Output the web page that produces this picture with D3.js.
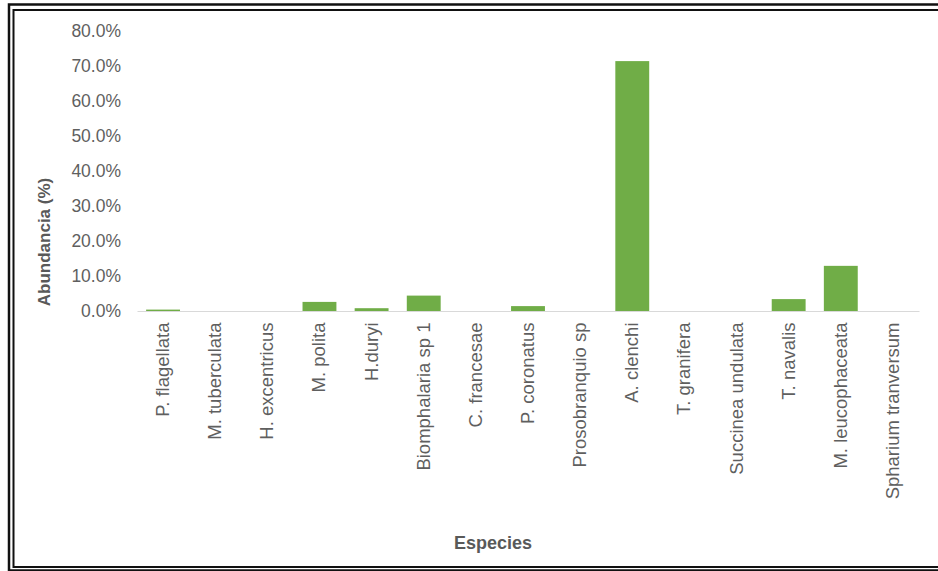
<!DOCTYPE html>
<html>
<head>
<meta charset="utf-8">
<script src="https://cdn.jsdelivr.net/npm/d3@7"></script>
<style>
  html, body { margin: 0; padding: 0; background: #fff; }
  svg { display: block; }
  text { font-family: "Liberation Sans", Arial, sans-serif; }
</style>
</head>
<body>
<svg id="chart" width="938" height="571"></svg>
<script>
// Species abundance (%) per category
const species = [
  "P. flagellata", "M. tuberculata", "H. excentricus", "M. polita", "H.duryi",
  "Biomphalaria sp 1", "C. francesae", "P. coronatus", "Prosobranquio sp",
  "A. clenchi", "T. granifera", "Succinea undulata", "T. navalis",
  "M. leucophaceata", "Spharium tranversum"
];
const abundance = [0.4, 0, 0, 2.6, 0.8, 4.4, 0, 1.4, 0, 71.4, 0, 0, 3.4, 12.9, 0];
const yTicks = [0, 10, 20, 30, 40, 50, 60, 70, 80];

const svg = d3.select("#chart");

// Double frame around the chart
svg.append("rect")
  .attr("x", 9).attr("y", 4.5).attr("width", 1000).attr("height", 566)
  .attr("fill", "none").attr("stroke", "#111").attr("stroke-width", 2.5);
svg.append("rect")
  .attr("x", 13.5).attr("y", 10).attr("width", 1000).attr("height", 557)
  .attr("fill", "none").attr("stroke", "#111").attr("stroke-width", 2);

const plot = { left: 137, right: 919, top: 31, bottom: 311 };

const x = d3.scaleBand()
  .domain(species)
  .range([plot.left, plot.right])
  .paddingInner(0.35)
  .paddingOuter(0.175);

const y = d3.scaleLinear()
  .domain([0, 80])
  .range([plot.bottom, plot.top]);

// Y axis labels (no axis line)
const yAxis = d3.axisLeft(y)
  .tickValues(yTicks)
  .tickSize(0)
  .tickPadding(0)
  .tickFormat(d => d.toFixed(1) + "%");
const gy = svg.append("g")
  .attr("transform", `translate(${plot.left - 16},0)`)
  .call(yAxis);
gy.select(".domain").remove();
gy.selectAll("text")
  .attr("fill", "#5f5f5f")
  .style("font-size", "17.5px");

// Bars
svg.append("g")
  .selectAll("rect")
  .data(species.map((s, i) => ({ s, v: abundance[i] })))
  .join("rect")
  .attr("x", d => x(d.s))
  .attr("width", x.bandwidth())
  .attr("y", d => y(d.v))
  .attr("height", d => y(0) - y(d.v))
  .attr("fill", "#70ad47");

// Category axis
const xAxis = d3.axisBottom(x).tickSize(0).tickPadding(0);
const gx = svg.append("g")
  .attr("transform", `translate(0,${plot.bottom})`)
  .call(xAxis);
gx.select(".domain")
  .attr("stroke", "#d9d9d9")
  .attr("stroke-width", 1.2);
gx.selectAll("text")
  .attr("fill", "#5f5f5f")
  .style("font-size", "18.5px")
  .attr("text-anchor", "end")
  .attr("dy", null)
  .attr("y", 0)
  .attr("transform", "translate(6,11.5) rotate(-90)");

// Axis titles
svg.append("text")
  .attr("transform", "translate(50,242) rotate(-90)")
  .attr("text-anchor", "middle")
  .attr("fill", "#595959")
  .style("font-weight", "bold")
  .style("font-size", "17px")
  .text("Abundancia (%)");

svg.append("text")
  .attr("x", 493)
  .attr("y", 549)
  .attr("text-anchor", "middle")
  .attr("fill", "#595959")
  .style("font-weight", "bold")
  .style("font-size", "18px")
  .text("Especies");
</script>
</body>
</html>
